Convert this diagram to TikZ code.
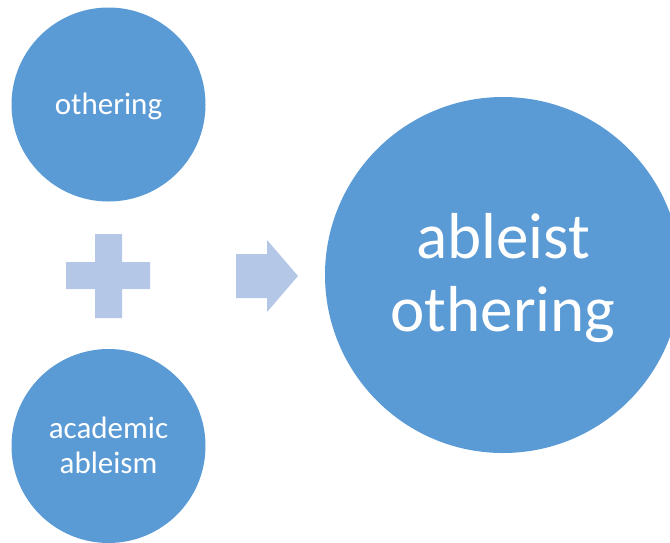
\documentclass[tikz,border=0pt]{standalone}
\usepackage{fontspec}
\setmainfont{Carlito}
\definecolor{circblue}{HTML}{5B9BD5}
\definecolor{lightblue}{HTML}{B4C7E7}
\tikzset{
  bubble/.style={circle, fill=circblue, draw=none, inner sep=0pt, outer sep=0pt},
  bubbletext/.style={text=white, inner sep=0pt, align=center, anchor=base},
  connector/.style={fill=lightblue, draw=none}
}
\begin{document}
\begin{tikzpicture}[x=1pt,y=-1pt]
\useasboundingbox (0,0) rectangle (670,542);
\clip (0,0) rectangle (670,542);
\node[bubble, minimum size=194pt] (c1) at (108.5,104.5) {};
\node[bubble, minimum size=194pt] (c2) at (108.5,446) {};
\node[bubble, minimum size=356pt] (c3) at (503,275) {};
\node[bubbletext, font=\fontsize{31}{35}\selectfont] (t1) at (108.5,114.5) {othering};
\node[bubbletext, font=\fontsize{31}{35}\selectfont] (t2) at (108.5,473) {academic\\ableism};
\node[bubbletext, font=\fontsize{65}{73}\selectfont] (t3) at (503,331) {ableist\\othering};
% plus sign
\fill[connector] (95,234) -- (122,234) -- (122,262) -- (150,262) -- (150,289) -- (122,289)
  -- (122,318) -- (95,318) -- (95,289) -- (66,289) -- (66,262) -- (95,262) -- cycle;
% arrow
\fill[connector] (236,254) -- (267,254) -- (267,240) -- (298,276) -- (267,312) -- (267,298) -- (236,298) -- cycle;
\end{tikzpicture}
\end{document}
